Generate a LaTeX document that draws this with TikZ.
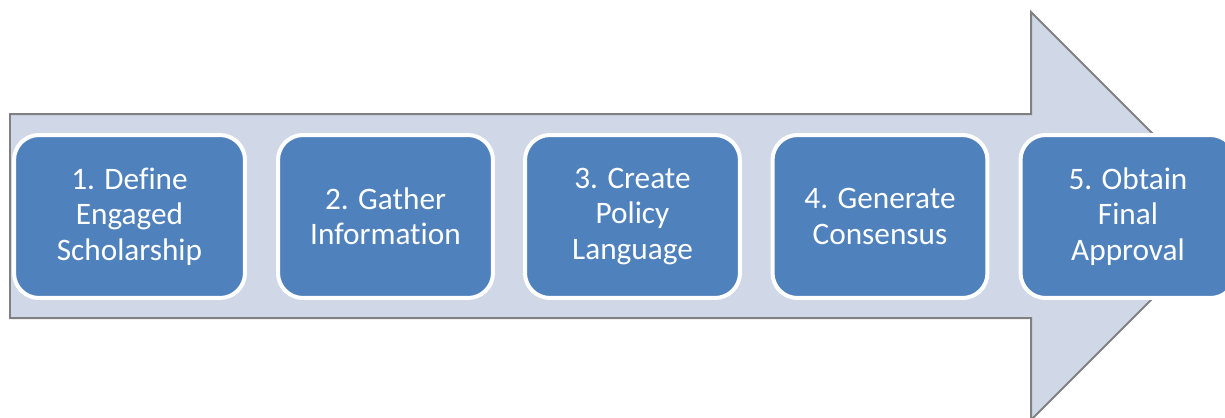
\documentclass[tikz,border=0pt]{standalone}
\usepackage{fontspec}
\setmainfont[Ligatures=NoCommon]{Carlito}
\usepackage{tikz}
\definecolor{arrowfill}{RGB}{208,216,232}
\definecolor{arrowline}{RGB}{128,128,128}
\definecolor{stepblue}{RGB}{79,129,189}
\tikzset{
  stepbox/.style={draw=white, line width=0.08cm, fill=stepblue, rounded corners=0.5cm,
    minimum width=4.3cm, minimum height=3.26cm, align=center, text=white,
    font=\fontsize{17.8}{20.2}\selectfont, inner sep=0pt}
}
\begin{document}
\begin{tikzpicture}[x=0.02cm, y=-0.02cm]
                \useasboundingbox (0,0) rectangle (1225,417);
                \clip (0,0) rectangle (1225,417);
                % Big process arrow
                \draw[fill=arrowfill, draw=arrowline, line width=0.04cm, line join=miter]
                  (10,114) -- (1031,114) -- (1031,12) -- (1235,216)
                  -- (1031,420) -- (1031,318) -- (10,318) -- cycle;

                % Steps
                \node[stepbox, minimum width=4.62cm] (define) at (129.5,216.5) {1. Define\\Engaged\\Scholarship};
                \node[stepbox] (gather) at (385.5,216.5) {2. Gather\\Information};
                \node[stepbox] (create) at (632.5,216.5) {3. Create\\Policy\\Language};
                \node[stepbox] (consensus) at (880,216.5) {4. Generate\\Consensus};
                \node[stepbox] (approval) at (1128,216.5) {5. Obtain\\Final\\Approval};
            \end{tikzpicture}
\end{document}
